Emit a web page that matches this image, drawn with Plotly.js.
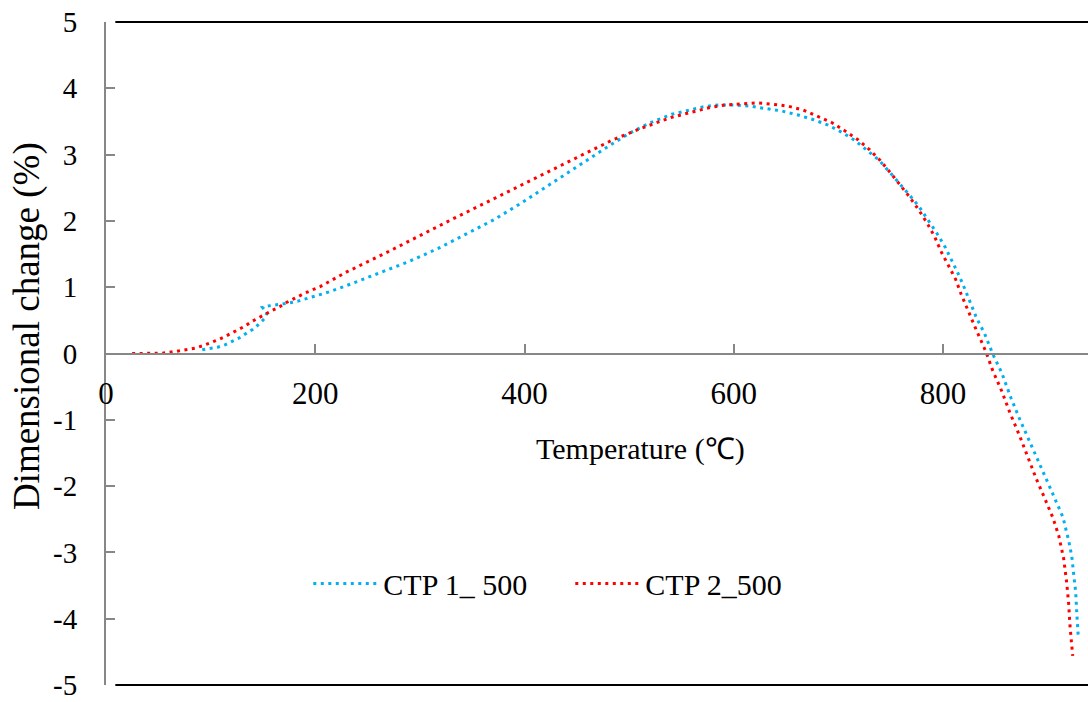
<!DOCTYPE html>
<html>
<head>
<meta charset="utf-8">
<script src="https://cdn.plot.ly/plotly-3.0.1.min.js"></script>
<style>html,body{margin:0;padding:0;background:#fff;}#chart{width:1088px;height:702px;}</style>
</head>
<body>
<div id="chart"></div>
<script>
// CTP 1_ 500 (blue)
var ctp1Temp = [92, 99.4, 106.6, 113.7, 120.7, 127.4, 133.7, 140.4, 146.3, 151.4, 154, 149.6, 154.4, 161.7, 169, 176, 183.5, 190.7, 198, 205, 212.4, 233.4, 262, 290, 317.5, 344.5, 371, 397, 422.3, 441.7, 461.5, 480.6, 500, 520, 541, 563.3, 570.4, 585.3, 600.3, 615.6, 630.6, 645.2, 660.8, 675.5, 689.4, 702.8, 715.2, 727, 738.5, 748.7, 758.8, 768.4, 777.3, 786, 794.2, 802.2, 808.9, 815.2, 821, 826.7, 832, 839.4, 847.7, 856, 865, 873.5, 882.1, 891.3, 899.9, 908.8, 914.6, 920, 923, 925.1, 926.7, 927.7, 928.7, 929.3];
var ctp1Change = [0.055, 0.075, 0.095, 0.13, 0.18, 0.235, 0.30, 0.365, 0.445, 0.525, 0.615, 0.695, 0.715, 0.73, 0.75, 0.765, 0.79, 0.825, 0.855, 0.885, 0.925, 1.045, 1.22, 1.39, 1.585, 1.80, 2.02, 2.27, 2.53, 2.73, 2.94, 3.13, 3.32, 3.48, 3.61, 3.70, 3.72, 3.75, 3.75, 3.73, 3.70, 3.66, 3.60, 3.53, 3.45, 3.34, 3.22, 3.07, 2.92, 2.74, 2.56, 2.38, 2.21, 2.01, 1.81, 1.60, 1.39, 1.18, 0.965, 0.745, 0.535, 0.31, -0.015, -0.29, -0.675, -1.0, -1.30, -1.63, -1.94, -2.26, -2.47, -2.82, -3.06, -3.37, -3.59, -3.89, -4.15, -4.30];
// CTP 2_500 (red)
var ctp2Temp = [25, 40, 54, 70, 85, 92, 99, 106, 113, 119, 126, 133, 139, 146, 152, 159, 166, 172, 179, 190, 204.7, 230, 264, 298, 331.5, 365, 399, 430, 457, 484, 512, 540, 562, 577, 592, 607, 622, 637, 652, 666.5, 680, 694, 707, 719, 730, 740, 750, 759, 768, 777, 785, 792, 798, 805, 812, 817, 823, 829, 832, 841, 847, 856, 864, 872.6, 880.5, 888.8, 897, 905, 910.6, 915.3, 918.1, 920, 921.3, 923.2, 923.9];
var ctp2Change = [0, 0, 0.005, 0.04, 0.08, 0.115, 0.155, 0.2, 0.25, 0.30, 0.36, 0.415, 0.48, 0.535, 0.59, 0.65, 0.705, 0.765, 0.82, 0.91, 1.01, 1.23, 1.49, 1.765, 2.03, 2.29, 2.56, 2.80, 3.01, 3.22, 3.40, 3.56, 3.65, 3.71, 3.75, 3.77, 3.78, 3.76, 3.73, 3.67, 3.58, 3.48, 3.35, 3.22, 3.07, 2.91, 2.72, 2.54, 2.36, 2.16, 1.96, 1.76, 1.54, 1.33, 1.12, 0.905, 0.675, 0.46, 0.345, 0.025, -0.24, -0.565, -0.90, -1.22, -1.55, -1.88, -2.18, -2.48, -2.75, -3.10, -3.45, -3.77, -4.11, -4.47, -4.56];

var xTickVals = [0, 200, 400, 600, 800];
var xTickText = ['0', '200', '400', '600', '800'];
var yTickVals = [-5, -4, -3, -2, -1, 0, 1, 2, 3, 4, 5];
var yTickText = ['-5', '-4', '-3', '-2', '-1', '0', '1', '2', '3', '4', '5'];

var FONT = 'Liberation Serif, Times New Roman, serif';
var traces = [
  {x: ctp1Temp, y: ctp1Change, name: 'CTP 1_ 500', mode: 'lines', type: 'scatter',
   line: {color: '#00B0F0', width: 3, dash: '3px,4.5px'}},
  {x: ctp2Temp, y: ctp2Change, name: 'CTP 2_500', mode: 'lines', type: 'scatter',
   line: {color: '#FF0000', width: 3, dash: '3px,4.5px'}}
];

var layout = {
  width: 1088, height: 702,
  margin: {l: 106, r: 0, t: 22, b: 17},
  paper_bgcolor: '#fff', plot_bgcolor: '#fff',
  font: {family: FONT, size: 30, color: '#000'},
  showlegend: true,
  legend: {orientation: 'h', x: 0.206, y: 0.153, xanchor: 'left', yanchor: 'middle',
           font: {family: FONT, size: 30, color: '#000'}, itemwidth: 65,
           entrywidth: 182, entrywidthmode: 'pixels', bgcolor: 'rgba(0,0,0,0)'},
  xaxis: {range: [0, 938.5], tickvals: xTickVals, ticktext: xTickText,
          showgrid: false, zeroline: false, showline: true, linecolor: '#878787', linewidth: 2,
          ticks: 'inside', ticklen: 9, tickwidth: 2, tickcolor: '#878787',
          anchor: 'free', position: 0.5, side: 'bottom', ticklabelstandoff: 12,
          tickfont: {family: FONT, size: 31, color: '#000'}, fixedrange: true},
  yaxis: {range: [-5, 5], tickvals: yTickVals, ticktext: yTickText,
          showgrid: false, zeroline: false, showline: true, linecolor: '#878787', linewidth: 2,
          ticks: 'inside', ticklen: 9, tickwidth: 2, tickcolor: '#878787',
          ticklabelstandoff: 21, ticklabeloverflow: 'allow',
          tickfont: {family: FONT, size: 29, color: '#000'}, fixedrange: true},
  shapes: [
    {type: 'line', xref: 'paper', yref: 'paper', x0: 0.0095, x1: 1, y0: 1, y1: 1, line: {color: '#000', width: 2}},
    {type: 'line', xref: 'paper', yref: 'paper', x0: 0.0095, x1: 1, y0: 0, y1: 0, line: {color: '#000', width: 2}}
  ],
  annotations: [
    {text: 'Temperature (℃)', xref: 'paper', yref: 'paper', x: 0.544, y: 0.356, xanchor: 'center', yanchor: 'middle',
     showarrow: false, font: {family: FONT, size: 30, color: '#000'}},
    {text: 'Dimensional change (%)', xref: 'paper', yref: 'paper', x: -0.081, y: 0.542, xanchor: 'center', yanchor: 'middle',
     textangle: -90, showarrow: false, font: {family: FONT, size: 37, color: '#000'}}
  ]
};

Plotly.newPlot('chart', traces, layout, {displayModeBar: false, staticPlot: true});
</script>
</body>
</html>
